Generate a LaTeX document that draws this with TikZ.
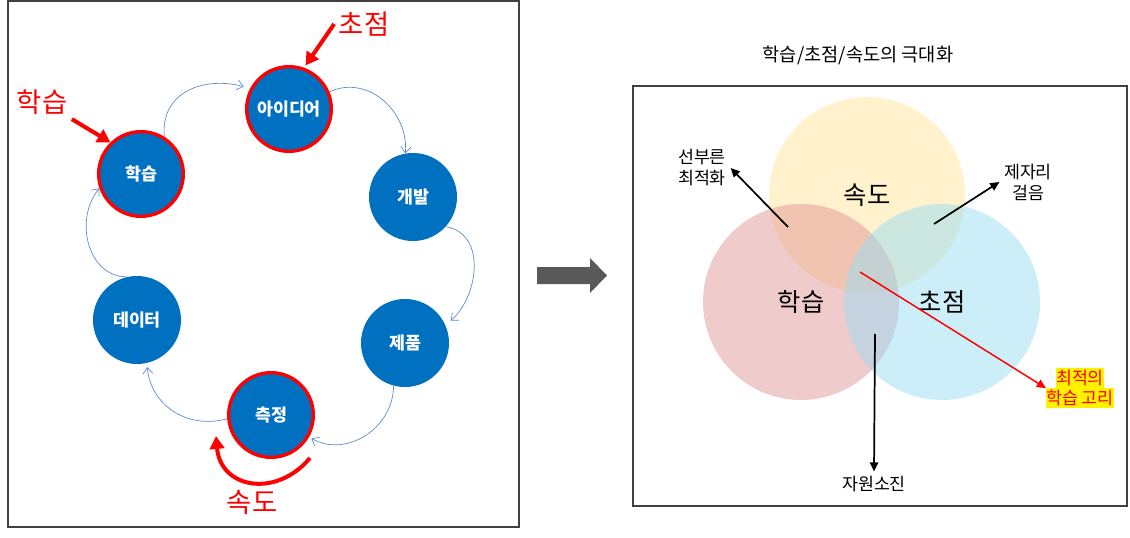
\documentclass[tikz,border=0pt]{standalone}
\usepackage{fontspec}
\setmainfont{Noto Sans CJK KR}
\usetikzlibrary{positioning,arrows.meta}
\definecolor{stepblue}{HTML}{0070C0}
\definecolor{arcblue}{HTML}{5B86D0}
\definecolor{framegray}{HTML}{404040}
\definecolor{blockgray}{HTML}{595959}
\definecolor{vennyellow}{HTML}{FFE599}
\definecolor{vennpink}{HTML}{E19797}
\definecolor{vennblue}{HTML}{99DDF3}
\tikzset{
  stepnode/.style={circle, fill=stepblue, minimum size=66pt, inner sep=0pt, text=white, font=\fontsize{13}{15}\selectfont\bfseries},
  keynode/.style={stepnode, draw=red, line width=2.5pt, minimum size=63.5pt},
  looparrow/.style={-{Straight Barb[length=1.6mm,width=2.6mm]}, arcblue, line width=0.5pt},
  redarrow/.style={-{Triangle[length=3.4mm,width=3.8mm]}, red, line width=3pt},
  thinred/.style={-{Triangle[length=2.4mm,width=2.2mm]}, red, line width=1.1pt},
  redlabel/.style={text=red, font=\fontsize{20.5}{24}\selectfont},
  venn/.style={circle, minimum size=147pt, inner sep=0pt, fill opacity=0.5, text opacity=1, font=\fontsize{19}{22}\selectfont},
  blackarrow/.style={-{Triangle[length=2.4mm,width=2.2mm]}, line width=1.3pt},
  sidelabel/.style={align=center, font=\fontsize{13}{15.75}\selectfont},
  optlabel/.style={fill=yellow, text=red, inner xsep=0pt, inner ysep=1.5pt, font=\fontsize{13}{15}\selectfont}
}

\begin{document}
\begin{tikzpicture}[x=0.75pt, y=0.75pt]
  \useasboundingbox (0,0) rectangle (1130,-538);
  % left: the loop
  \draw[framegray, line width=0.9pt] (8,-1) rectangle (519,-527);
  \node[keynode] (idea) at (289,-109) {아이디어};
  \node[keynode] (learn) at (141,-174) {학습};
  \node[stepnode] (dev) at (413,-197) {개발};
  \node[stepnode] (prod) at (405,-343) {제품};
  \node[keynode] (meas) at (271,-415) {측정};
  \node[stepnode] (data) at (137,-320) {데이터};

  \draw[looparrow, shorten >=5pt] (learn.58) to[out=95, in=165, looseness=1.2] (idea.152);
  \draw[looparrow] (idea.23) to[out=25, in=85, looseness=1.1] (dev.100);
  \draw[looparrow, shorten >=5pt] (dev.-42) to[out=-10, in=40, looseness=1.1] (prod.24);
  \draw[looparrow, shorten >=2pt] (prod.-105) to[out=-90, in=-30, looseness=1.1] (meas.-30);
  \draw[looparrow, shorten >=3pt] (meas.185) to[out=195, in=-85, looseness=1.1] (data.-77);
  \draw[looparrow] (data.103) to[out=180, in=230, looseness=1.1] (learn.199);

  % red marks
  \node[redlabel] (focuslbl) at (364,-24) {초점};
  \draw[redarrow, shorten >=2pt] (focuslbl.west) -- (idea.70);
  \node[redlabel] (learnlbl) at (42,-102) {학습};
  \draw[redarrow] (learnlbl.south east) -- (learn.134);
  \node[redlabel] (spdlbl) at (252,-502) {속도};
  \coordinate (spdA) at (310,-458);
  \coordinate (spdB) at (216,-436);
  \draw[redarrow] (spdA) to[out=-130, in=-85, looseness=1.4] (spdB);

  % middle arrow
  \fill[blockgray] (537,-267) -- (590,-267) -- (590,-258) -- (607,-275.5) -- (590,-293) -- (590,-284) -- (537,-284) -- cycle;

  % right: venn
  \node[font=\fontsize{14}{16}\selectfont] (title) at (858,-55) {학습/초점/속도의 극대화};
  \draw[framegray, line width=0.9pt] (633,-86) rectangle (1127,-506);
  \node[venn, fill=vennyellow] (vspeed) at (867,-195) {속도};
  \node[venn, fill=vennpink] (vlearn) at (801,-302) {학습};
  \node[venn, fill=vennblue] (vfocus) at (942,-302) {초점};

  \node[sidelabel] (hasty) at (702,-168) {선부른\\최적화};
  \coordinate (hastyA) at (788,-227);
  \draw[blackarrow] (hastyA) -- (hasty.east);
  \node[sidelabel] (stall) at (1028,-182) {제자리\\걸음};
  \coordinate (stallA) at (934,-224);
  \draw[blackarrow] (stallA) -- (stall.west);
  \node[sidelabel] (drain) at (874,-484) {자원소진};
  \coordinate (drainA) at (875,-334);
  \draw[blackarrow] (drainA) -- (drain.north);

  \node[optlabel] (opt1) at (1080,-378) {최적의};
  \node[optlabel, below=0pt of opt1] (opt2) {학습 고리};
  \coordinate (optA) at (860,-272);
  \draw[thinred] (optA) -- (opt2.north west);
\end{tikzpicture}
\end{document}
